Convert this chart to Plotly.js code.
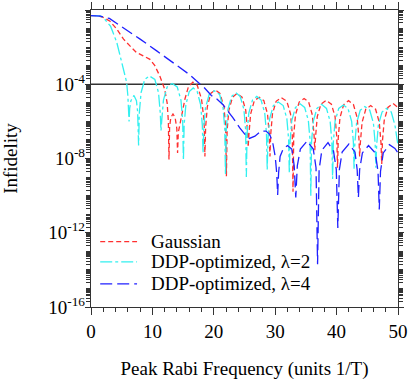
<!DOCTYPE html>
<html>
<head>
<meta charset="utf-8">
<script src="https://cdn.plot.ly/plotly-3.0.1.min.js"></script>
<style>
  body { margin: 0; background: #fff; }
  #plotArea { width: 409px; height: 380px; }
</style>
</head>
<body>
<div id="plotArea"></div>
<script>
// Infidelity vs peak Rabi frequency

var gaussX = [0, 1, 2, 3.1, 4.2, 5.3, 6.3, 7.4, 8.5, 9.6, 10.4, 11.2, 12.0, 12.4, 12.6, 12.7,
  12.8, 13.0, 13.35, 13.7, 13.98, 14.1,
  14.22, 14.7, 15.3, 15.85, 16.6, 17.3, 18.0, 18.43, 18.55,
  18.67, 18.95, 19.5, 20.25, 21.0, 21.65, 21.93, 22.05,
  22.17, 22.45, 23.05, 23.8, 24.6, 25.2, 25.48, 25.6,
  25.72, 26.0, 26.6, 27.4, 28.15, 28.75, 29.03, 29.15,
  29.27, 29.55, 30.15, 31.0, 31.9, 32.5, 32.78, 32.9,
  33.02, 33.3, 33.9, 34.7, 35.45, 36.05, 36.33, 36.45,
  36.57, 36.85, 37.45, 38.3, 39.15, 39.75, 40.03, 40.15,
  40.27, 40.55, 41.15, 41.95, 42.75, 43.35, 43.63, 43.75,
  43.87, 44.15, 44.75, 45.55, 46.35, 46.95, 47.23, 47.35,
  47.47, 47.75, 48.35, 49.2, 50];
var gaussY = [0.5, 0.49, 0.4, 0.25, 0.093, 0.027, 0.012, 5.1e-3, 3.4e-3, 2.2e-3, 1.0e-3, 2.8e-4, 5.4e-5, 1.0e-5, 1.0e-6, 8.9e-9,
  5.0e-7, 1.6e-6, 2.5e-6, 1.6e-6, 4.0e-7, 2.0e-8,
  2.5e-7, 1.6e-6, 1.6e-5, 7.1e-5, 1.3e-4, 8.9e-5, 1.6e-5, 1.0e-6, 1.3e-8,
  5.0e-7, 6.3e-6, 3.2e-5, 5.0e-5, 3.2e-5, 6.3e-6, 5.0e-7, 1.1e-9,
  3.2e-7, 4.0e-6, 2.0e-5, 3.2e-5, 2.0e-5, 4.0e-6, 3.2e-7, 4.0e-8,
  2.0e-7, 2.5e-6, 1.3e-5, 2.0e-5, 1.3e-5, 2.5e-6, 2.0e-7, 1.3e-8,
  2.0e-7, 2.5e-6, 1.2e-5, 1.9e-5, 1.2e-5, 2.5e-6, 2.0e-7, 1.6e-10,
  1.8e-7, 2.2e-6, 1.1e-5, 1.7e-5, 1.1e-5, 2.2e-6, 1.8e-7, 2.8e-8,
  1.4e-7, 1.8e-6, 8.5e-6, 1.35e-5, 8.5e-6, 1.8e-6, 1.4e-7, 3.2e-9,
  1.3e-7, 1.6e-6, 7.9e-6, 1.3e-5, 7.9e-6, 1.6e-6, 1.3e-7, 1.3e-8,
  7.1e-8, 8.9e-7, 4.5e-6, 7.1e-6, 4.5e-6, 8.9e-7, 7.1e-8, 5.0e-9,
  8.9e-8, 1.1e-6, 5.6e-6, 9.1e-6, 5.6e-6];

var ddp2X = [0, 1, 1.5, 2, 2.5, 3.2, 4.2, 5.0, 5.5, 5.8, 6.0, 6.1, 6.2,
  6.3, 6.5, 7.0, 7.4, 7.6, 7.75,
  7.87, 8.15, 8.75, 9.5, 10.4, 11.0, 11.28, 11.4,
  11.52, 11.8, 12.4, 13.2, 14.05, 14.65, 14.93, 15.05,
  15.17, 15.45, 16.0, 16.65, 17.3, 17.85, 18.13, 18.25,
  18.37, 18.65, 19.25, 20.1, 20.95, 21.5, 21.78, 21.9,
  22.02, 22.3, 22.9, 23.6, 24.3, 24.9, 25.18, 25.3,
  25.42, 25.7, 26.3, 27.0, 27.7, 28.3, 28.58, 28.7,
  28.82, 29.1, 29.7, 30.5, 31.3, 31.9, 32.18, 32.3,
  32.42, 32.7, 33.3, 34.05, 34.8, 35.4, 35.68, 35.8,
  35.92, 36.2, 36.8, 37.55, 38.35, 38.95, 39.23, 39.35,
  39.47, 39.75, 40.35, 41.1, 41.85, 42.45, 42.73, 42.85,
  42.97, 43.25, 43.85, 44.6, 45.4, 46.0, 46.28, 46.4,
  46.52, 46.8, 47.4, 48.1, 48.9, 49.5, 50];
var ddp2Y = [0.5, 0.5, 0.48, 0.4, 0.25, 0.13, 0.018, 1.5e-3, 4.0e-4, 1.3e-4, 2.5e-5, 6.3e-6, 1.0e-6,
  5.0e-6, 1.3e-5, 2.5e-5, 1.3e-5, 3.2e-6, 5.0e-8,
  2.8e-6, 3.5e-5, 1.8e-4, 2.8e-4, 1.8e-4, 3.5e-5, 2.8e-6, 3.2e-7,
  1.1e-6, 1.4e-5, 7.1e-5, 1.1e-4, 7.1e-5, 1.4e-5, 1.1e-6, 7.9e-9,
  6.3e-7, 7.9e-6, 4.0e-5, 6.3e-5, 4.0e-5, 7.9e-6, 6.3e-7, 2.0e-8,
  4.5e-7, 5.6e-6, 2.8e-5, 4.5e-5, 2.8e-5, 5.6e-6, 4.5e-7, 1.3e-9,
  3.5e-7, 4.5e-6, 2.2e-5, 3.5e-5, 2.2e-5, 4.5e-6, 3.5e-7, 1.0e-9,
  2.2e-7, 2.8e-6, 1.4e-5, 2.2e-5, 1.4e-5, 2.8e-6, 2.2e-7, 2.5e-9,
  1.1e-7, 1.4e-6, 7.1e-6, 1.1e-5, 7.1e-6, 1.4e-6, 1.1e-7, 1.6e-9,
  8.9e-8, 1.1e-6, 5.6e-6, 8.9e-6, 5.6e-6, 1.1e-6, 8.9e-8, 1.0e-10,
  7.9e-8, 1.0e-6, 5.0e-6, 8.3e-6, 5.0e-6, 1.0e-6, 7.9e-8, 7.9e-10,
  7.9e-8, 1.0e-6, 5.0e-6, 7.6e-6, 5.0e-6, 1.0e-6, 7.9e-8, 2.5e-9,
  6.3e-8, 7.9e-7, 4.0e-6, 6.3e-6, 4.0e-6, 7.9e-7, 6.3e-8, 3.2e-9,
  5.0e-8, 6.3e-7, 3.2e-6, 5.0e-6, 3.2e-6, 6.3e-7, 5.0e-8];

var ddp4X = [0, 1.5, 3.0, 5.3, 8.0, 10.7, 13.4, 16.1, 17.2, 18.5, 19.6, 20.5, 21.5, 22.1, 23.1,
  24.2, 25.3, 25.8, 26.7, 27.7, 28.5, 29.1, 29.6, 30.0, 30.25, 30.4, 30.55, 30.8, 31.3, 32.0,
  32.7, 33.1, 33.35, 33.6, 34.1, 35.2, 36.2, 36.65, 36.9, 37.15, 37.6, 38.6, 39.5, 39.95, 40.2,
  40.45, 40.9, 42.0, 43.0, 43.35, 43.55, 43.75, 44.2, 45.2, 46.3, 46.75, 46.95, 47.15, 47.6, 48.6,
  49.5, 50];
var ddp4Y = [0.5, 0.47, 0.35, 0.11, 0.027, 6.3e-3, 1.5e-3, 3.2e-4, 1.5e-4, 6.3e-5, 2.5e-5, 1.6e-5, 7.9e-6, 4.5e-6, 1.6e-6,
  4.6e-7, 1.6e-7, 1.2e-7, 1.6e-7, 3.0e-7, 3.0e-7, 2.0e-7, 7.1e-8, 1.3e-8, 1.6e-9, 1.1e-10, 1.6e-9, 1.3e-8, 3.2e-8, 5.0e-8,
  3.2e-8, 4.0e-9, 7.9e-11, 4.0e-9, 3.2e-8, 8.7e-8, 3.2e-8, 3.2e-9, 2.0e-14, 2.5e-9, 2.8e-8, 7.1e-8, 2.5e-8, 2.5e-9, 1.8e-12,
  2.5e-9, 2.2e-8, 6.0e-8, 2.2e-8, 2.5e-9, 7.9e-11, 2.5e-9, 2.0e-8, 5.0e-8, 2.0e-8, 2.0e-9, 1.8e-11, 2.0e-9, 2.0e-8, 5.6e-8,
  3.5e-8, 2.0e-8];

var seriesNames = ["Gaussian", "DDP-optimized, \u03bb=2", "DDP-optimized, \u03bb=4"];
var seriesColors = ["#ff3030", "#33f0f0", "#2020ff"];
var seriesDash = ["5px,3px", "12px,3px,3px,3px", "12px,5px"];
var threshold = 1e-4;

var xTicks = [0, 10, 20, 30, 40, 50];
var yTicks = [1, 1e-4, 1e-8, 1e-12, 1e-16];
var yTickText = ["10<sup>0</sup>", "10<sup>-4</sup>", "10<sup>-8</sup>", "10<sup>-12</sup>", "10<sup>-16</sup>"];

// minor ticks: every decade plus 2..9 inside each
var yMinor = [];
for (var d = 0; d > -16; d--) {
  for (var m = 1; m < 10; m++) {
    yMinor.push(m * Math.pow(10, d - 1));
  }
}

var serif = "Liberation Serif";
var fs = 19;

var thresholdLine = {
  x: [0, 50], y: [threshold, threshold], mode: "lines",
  line: {color: "#333", width: 1.3}, showlegend: false, hoverinfo: "skip"
};
var traces = [thresholdLine];
var xs = [gaussX, ddp2X, ddp4X];
var ys = [gaussY, ddp2Y, ddp4Y];
for (var i = 0; i < 3; i++) {
  traces.push({
    x: xs[i], y: ys[i], mode: "lines", name: seriesNames[i], showlegend: false,
    line: {color: seriesColors[i], width: 1.3, dash: seriesDash[i]}
  });
}

// hand-made legend: plotly's row spacing is too tall for this font size
var legendRows = [0.22, 0.152, 0.078];
var shapes = [], annotations = [];
for (var i = 0; i < 3; i++) {
  shapes.push({
    type: "line", xref: "paper", yref: "paper",
    x0: 0.03, x1: 0.15, y0: legendRows[i], y1: legendRows[i],
    line: {color: seriesColors[i], width: 1.3, dash: seriesDash[i]}
  });
  annotations.push({
    xref: "paper", yref: "paper", x: 0.188, y: legendRows[i],
    xanchor: "left", yanchor: "middle", showarrow: false,
    text: seriesNames[i], font: {family: serif, size: fs, color: "#000"}
  });
}

var layout = {
  width: 409, height: 380,
  margin: {l: 91, r: 11, t: 10, b: 73},
  paper_bgcolor: "#fff", plot_bgcolor: "#fff",
  font: {family: serif, size: fs, color: "#000"},
  showlegend: false,
  shapes: shapes,
  annotations: annotations,
  xaxis: {
    range: [0, 50], tickmode: "array", tickvals: xTicks,
    ticks: "outside", ticklen: 7, tickwidth: 1, tickcolor: "#333",
    minor: {dtick: 2, ticks: "outside", ticklen: 4, tickwidth: 1, tickcolor: "#333"},
    showline: true, linecolor: "#333", linewidth: 1.2, mirror: "allticks",
    showgrid: false, zeroline: false,
    tickfont: {family: serif, size: fs},
    title: {text: "Peak Rabi Frequency (units 1/T)", font: {family: serif, size: fs}, standoff: 21}
  },
  yaxis: {
    type: "log", range: [-16, 0], tickmode: "array", tickvals: yTicks, ticktext: yTickText,
    ticks: "outside", ticklen: 5, tickwidth: 1, tickcolor: "#333", ticklabelstandoff: -4,
    minor: {tickmode: "array", tickvals: yMinor, ticks: "outside", ticklen: 4, tickwidth: 1, tickcolor: "#333"},
    showline: true, linecolor: "#333", linewidth: 1.2, mirror: "allticks",
    showgrid: false, zeroline: false,
    tickfont: {family: serif, size: fs},
    title: {text: "Infidelity", font: {family: serif, size: fs}, standoff: 27}
  }
};

Plotly.newPlot("plotArea", traces, layout, {displayModeBar: false, staticPlot: true});
</script>
</body>
</html>
